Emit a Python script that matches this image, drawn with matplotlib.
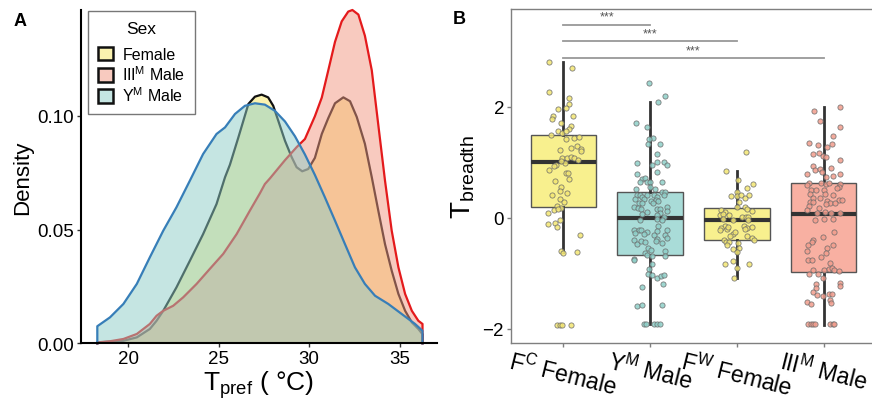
import numpy as np
import matplotlib
matplotlib.use("Agg")
import matplotlib.pyplot as plt
from matplotlib.patches import Patch

plt.rcParams['font.family'] = ['Liberation Sans', 'DejaVu Sans']
plt.rcParams['mathtext.fontset'] = 'custom'
plt.rcParams['mathtext.rm'] = 'Liberation Sans'
plt.rcParams['mathtext.it'] = 'Liberation Sans:italic'

# ---- panel A: density curves ----
fem_x = [18.30, 19.0, 19.74, 20.48, 21.2, 21.57, 21.94, 22.67, 23.41, 24.14, 24.88, 25.35, 25.62,
         26.09, 26.64, 27.0, 27.37, 27.73, 28.01, 28.29, 28.66, 29.03, 29.30, 29.61, 29.94, 30.31,
         30.69, 31.05, 31.42, 31.88, 32.25, 32.62, 33.07, 33.45, 33.81, 34.18, 34.55, 34.92, 35.29,
         35.66, 36.02, 36.25]
fem_y = [0.0004, 0.0007, 0.0011, 0.0026, 0.0063, 0.0099, 0.0143, 0.0246, 0.0363, 0.0480, 0.0612,
         0.0730, 0.0785, 0.0906, 0.1052, 0.1084, 0.1093, 0.1081, 0.1044, 0.0978, 0.0890, 0.0818,
         0.0774, 0.0756, 0.0766, 0.0815, 0.0920, 0.0990, 0.1055, 0.1081, 0.1064, 0.0995, 0.0877,
         0.0730, 0.0583, 0.0436, 0.0319, 0.0217, 0.0143, 0.0092, 0.0063, 0.0040]

m3_x = [18.30, 19.0, 19.74, 20.48, 21.2, 21.57, 21.94, 22.49, 23.04, 23.78, 24.51, 25.25, 25.99,
        26.72, 27.28, 27.55, 27.83, 28.66, 29.30, 29.76, 30.31, 30.69, 31.05, 31.42, 31.79, 32.15,
        32.38, 32.71, 33.07, 33.45, 33.81, 34.18, 34.55, 34.92, 35.29, 35.66, 36.02, 36.25]
m3_y = [0.0004, 0.0009, 0.0019, 0.0041, 0.0085, 0.0121, 0.0143, 0.0165, 0.0202, 0.0261, 0.0327,
        0.0393, 0.0480, 0.0583, 0.0660, 0.0700, 0.0725, 0.0805, 0.0862, 0.0898, 0.0998, 0.1080,
        0.1200, 0.1325, 0.1415, 0.1458, 0.1465, 0.1445, 0.1352, 0.1200, 0.0960, 0.0715, 0.0495,
        0.0334, 0.0217, 0.0143, 0.0099, 0.0085]

ym_x = [18.30, 19.0, 19.74, 20.48, 21.2, 21.94, 22.67, 23.41, 24.14, 24.88, 25.35, 25.90, 26.45,
        27.0, 27.55, 28.10, 28.66, 29.21, 29.76, 30.31, 30.86, 31.42, 31.97, 32.52, 33.07, 33.63,
        34.36, 35.10, 35.84, 36.25]
ym_y = [0.0075, 0.0114, 0.0173, 0.0261, 0.0378, 0.0495, 0.0598, 0.0715, 0.0832, 0.0920, 0.0949,
        0.1008, 0.1044, 0.1055, 0.1049, 0.1022, 0.0975, 0.0910, 0.0830, 0.0740, 0.0642, 0.0539,
        0.0436, 0.0334, 0.0261, 0.0209, 0.0173, 0.0129, 0.0085, 0.0055]

sex_labels = ['Female', r'III$^{\mathrm{M}}$ Male', r'Y$^{\mathrm{M}}$ Male']
sex_fill = ['#F7E761', '#F39781', '#8DCDC7']
sex_line = ['#111111', '#E41A1C', '#377EB8']

# ---- panel B: boxplot stats and jittered points ----
groups = [r'$\mathrm{F}^{\mathrm{C}}$ Female', r'$\mathrm{Y}^{\mathrm{M}}$ Male',
          r'$\mathrm{F}^{\mathrm{W}}$ Female', r'$\mathrm{III}^{\mathrm{M}}$ Male']
q1 = [0.20, -0.68, -0.40, -0.98]
med = [1.00, -0.01, -0.05, 0.07]
q3 = [1.49, 0.47, 0.18, 0.62]
wlo = [-0.62, -1.92, -1.09, -1.93]
whi = [2.80, 2.08, 0.84, 1.99]
box_fill = ['#F8F08E', '#A9DCD8', '#F8F08E', '#F8B0A2']
pt_fill = ['#F3E672', '#8ECFC8', '#F3E672', '#F29C8C']

fc_y = [2.80, 2.69, 2.26, 2.15, 2.04, 1.95, 1.97, 1.84, 1.77, 1.83, 1.71, 1.66, 1.60, 1.57, 1.53,
        1.57, 1.48, 1.42, 1.43, 1.45, 1.29, 1.26, 1.24, 1.20, 1.21, 1.07, 1.07, 1.09, 1.07, 1.03,
        0.99, 1.02, 0.95, 0.93, 0.85, 0.81, 0.81, 0.69, 0.66, 0.56, 0.48, 0.44, 0.41, 0.33, 0.29,
        0.21, 0.17, 0.13, 0.15, 0.09, -0.05, -0.09, -0.11, -0.17, -0.31, -0.61, -0.64, -0.62,
        -1.93, -1.93, -1.93, -1.93]
fc_dx = [-0.16, 0.10, -0.165, 0.07, 0.065, -0.055, 0.03, -0.12, -0.125, 0.11, -0.025, 0.09, 0.07,
         -0.06, -0.015, 0.035, -0.145, 0.03, 0.13, 0.18, 0.165, 0.09, 0.20, 0.20, -0.04, -0.01,
         0.04, 0.09, 0.125, 0.175, 0.02, -0.03, -0.08, -0.11, -0.16, 0.03, 0.06, 0.07, -0.09, -0.02,
         -0.04, 0.04, -0.13, -0.04, 0.015, -0.075, -0.03, -0.11, -0.06, -0.17, -0.035, -0.095,
         -0.18, -0.075, 0.195, -0.02, 0.0, 0.165, -0.075, -0.04, -0.015, 0.09]

ym_pts_y = [2.42, 2.20, 2.08, 1.70, 1.63, 1.44, 1.41, 1.32, 1.32, 1.14, 0.98, 0.95, 1.01, 1.01, 0.95,
            0.82, 0.78, 0.70, 0.71, 0.64, 0.64, 0.64, 0.65, 0.51, 0.55, 0.52, 0.46, 0.47, 0.40, 0.41,
            0.38, 0.40, 0.40, 0.37, 0.40, 0.33, 0.34, 0.30, 0.32, 0.30, 0.27, 0.27, 0.26, 0.19, 0.17,
            0.16, 0.11, 0.16, 0.16, 0.20, 0.06, 0.08, 0.12, 0.05, 0.01, -0.05, -0.03, -0.04, -0.15,
            -0.22, -0.22, -0.22, -0.26, -0.24, -0.22, -0.28, -0.30, -0.32, -0.31, -0.37, -0.40, -0.47,
            -0.43, -0.44, -0.39, -0.43, -0.46, -0.55, -0.59, -0.60, -0.64, -0.67, -0.70, -0.70, -0.74,
            -0.77, -0.83, -0.92, -1.01, -1.03, -1.09, -1.06, -1.03, -1.19, -1.25, -1.59, -1.57, -1.57,
            -1.92, -1.92, -1.92, -1.92, -1.92]
ym_pts_dx = [-0.01, 0.17, 0.095, -0.16, -0.035, 0.03, -0.01, -0.02, 0.11, 0.075, -0.15, 0.025, 0.08,
             0.165, 0.19, 0.075, -0.15, -0.09, -0.055, -0.11, -0.04, 0.0, 0.135, -0.16, 0.0, 0.06,
             0.135, 0.17, -0.155, -0.115, -0.09, -0.03, 0.04, 0.075, 0.155, -0.17, -0.075, 0.01,
             0.065, 0.09, -0.13, -0.09, 0.035, -0.18, -0.135, -0.10, -0.04, 0.075, 0.12, 0.19,
             -0.095, 0.115, 0.19, 0.085, 0.155, -0.115, 0.075, 0.14, 0.09, -0.19, -0.125, -0.105,
             -0.04, 0.085, 0.19, -0.175, -0.065, 0.05, 0.17, 0.19, -0.185, -0.145, -0.10, -0.06,
             0.075, 0.07, 0.14, -0.02, 0.01, 0.175, -0.055, -0.035, 0.025, 0.17, -0.19, -0.19, 0.02,
             -0.01, -0.025, 0.025, 0.08, 0.125, 0.155, 0.15, -0.09, -0.15, -0.09, 0.14, -0.065,
             -0.045, 0.04, 0.075, 0.115]

fw_y = [1.19, 0.84, 0.68, 0.61, 0.53, 0.47, 0.39, 0.39, 0.40, 0.35, 0.40, 0.29, 0.19, 0.19, 0.16,
        0.12, 0.14, 0.11, 0.05, 0.07, 0.05, 0.02, 0.02, 0.02, -0.02, -0.05, -0.04, -0.16, -0.19,
        -0.23, -0.20, -0.17, -0.16, -0.18, -0.17, -0.21, -0.29, -0.26, -0.34, -0.33, -0.37, -0.40,
        -0.40, -0.44, -0.44, -0.49, -0.45, -0.55, -0.56, -0.62, -0.83, -0.79, -0.83, -0.91, -1.09]
fw_dx = [0.10, -0.13, 0.01, 0.19, 0.115, 0.0, -0.065, 0.0, 0.045, 0.09, 0.14, 0.025, 0.0, 0.09,
         0.11, 0.17, -0.18, -0.14, -0.20, -0.165, -0.09, 0.06, 0.10, 0.125, -0.155, -0.04, 0.13,
         -0.14, -0.18, -0.20, -0.12, -0.105, 0.085, 0.12, 0.17, 0.09, -0.05, -0.025, -0.075, 0.12,
         0.17, 0.195, -0.15, -0.125, -0.09, -0.11, 0.01, 0.025, -0.04, 0.0, -0.14, -0.05, 0.14,
         0.0, -0.03]

m3_pts_y = [1.93, 2.00, 1.75, 1.63, 1.47, 1.34, 1.31, 1.28, 1.33, 1.15, 1.16, 1.11, 1.10, 1.03, 0.93,
            0.85, 0.87, 0.82, 0.89, 0.78, 0.74, 0.75, 0.78, 0.63, 0.62, 0.61, 0.62, 0.61, 0.56, 0.58,
            0.50, 0.49, 0.50, 0.53, 0.43, 0.43, 0.41, 0.35, 0.35, 0.30, 0.32, 0.32, 0.28, 0.29, 0.27,
            0.27, 0.21, 0.25, 0.13, 0.17, 0.08, 0.10, 0.09, 0.09, -0.04, -0.03, -0.02, -0.26, -0.40,
            -0.44, -0.35, -0.50, -0.55, -0.50, -0.61, -0.63, -0.76, -0.76, -0.71, -0.82, -0.94, -0.94,
            -0.93, -0.90, -0.95, -0.97, -1.01, -1.02, -1.09, -1.19, -1.27, -1.18, -1.23, -1.34, -1.39,
            -1.41, -1.37, -1.37, -1.49, -1.52, -1.55, -1.54, -1.92, -1.92, -1.92, -1.92, -1.92,
            -1.92, -1.92]
m3_pts_dx = [-0.115, 0.19, -0.04, 0.185, 0.10, -0.17, -0.065, 0.04, 0.09, -0.125, -0.055, -0.015,
             0.02, 0.18, -0.13, -0.105, -0.04, -0.025, 0.085, -0.19, 0.025, 0.11, 0.19, -0.17,
             -0.03, 0.025, 0.06, 0.19, 0.17, -0.19, -0.145, -0.095, 0.0, 0.15, -0.16, 0.01, 0.11,
             -0.125, -0.05, 0.04, 0.17, 0.205, -0.16, -0.12, 0.075, 0.13, -0.17, 0.025, -0.195,
             -0.06, -0.08, 0.01, 0.08, 0.18, -0.105, 0.0, 0.10, 0.12, -0.13, -0.14, -0.01, -0.18,
             0.035, 0.11, -0.19, 0.02, -0.18, -0.14, -0.03, 0.07, -0.12, 0.0, 0.055, 0.09, 0.12,
             0.175, -0.17, -0.07, -0.015, -0.09, -0.085, 0.19, 0.18, -0.125, -0.075, -0.01, 0.055,
             0.09, 0.075, -0.195, -0.145, 0.08, -0.18, -0.15, -0.12, -0.10, 0.07, 0.10, 0.115]

pts_y = [fc_y, ym_pts_y, fw_y, m3_pts_y]
pts_dx = [fc_dx, ym_pts_dx, fw_dx, m3_pts_dx]

# significance brackets: (from group, to group, height)
sig_pairs = [(1, 2, 3.48), (1, 3, 3.18), (1, 4, 2.88)]

fig = plt.figure(figsize=(8.72, 4.02), dpi=100)

# ================= panel A =================
axA = fig.add_axes([81/872, 1-344.3/402, 356/872, 333.3/402])
curves = [(fem_x, fem_y), (m3_x, m3_y), (ym_x, ym_y)]
for i, (cx, cy) in enumerate(curves):
    px = [cx[0]] + list(cx) + [cx[-1]]
    py = [0.0] + list(cy) + [0.0]
    axA.fill(px, py, facecolor=sex_fill[i], alpha=0.5, edgecolor='none', zorder=2 + 2*i)
    axA.plot(px, py, color=sex_line[i], lw=1.6, zorder=3 + 2*i, clip_on=False,
             solid_joinstyle='round')

axA.set_xlim(17.4, 37.05)
axA.set_ylim(0, 0.1465)
axA.set_xticks([20, 25, 30, 35])
axA.set_yticks([0.0, 0.05, 0.10])
axA.set_yticklabels(['0.00', '0.05', '0.10'])
for s in ['top', 'right']:
    axA.spines[s].set_visible(False)
for s in ['left', 'bottom']:
    axA.spines[s].set_linewidth(1.5)
    axA.spines[s].set_zorder(10)
axA.tick_params(labelsize=13.5, length=3, width=1, color='#333333', labelcolor='black', pad=2)
axA.set_ylabel('Density', fontsize=16, labelpad=3)
axA.set_xlabel(r'T$_{\mathrm{pref}}$ ( °C)', fontsize=19, labelpad=1)

handles = [Patch(facecolor=matplotlib.colors.to_rgba(sex_fill[i], 0.5), edgecolor='#111111',
                 linewidth=1.8) for i in range(3)]
leg = axA.legend(handles, sex_labels, title='Sex', loc='upper left', bbox_to_anchor=(0.02, 0.997),
                 fontsize=11.5, title_fontsize=12.5, frameon=True, fancybox=False, borderaxespad=0,
                 handlelength=0.95, handleheight=0.95, handletextpad=0.6, labelspacing=0.15,
                 borderpad=0.6)
leg._legend_box.sep = 8
leg.get_frame().set_edgecolor('#555555')
leg.get_frame().set_linewidth(1.0)
leg.set_zorder(20)

# ================= panel B =================
axB = fig.add_axes([511/872, 1-344/402, 365/872, 334/402])
bstats = []
for i in range(4):
    bstats.append(dict(med=med[i], q1=q1[i], q3=q3[i], whislo=wlo[i], whishi=whi[i], fliers=[]))
bp = axB.bxp(bstats, positions=[1, 2, 3, 4], widths=0.75, showfliers=False, showcaps=False,
             patch_artist=True,
             boxprops=dict(edgecolor='#555555', linewidth=1.0),
             whiskerprops=dict(color='#333333', linewidth=2.0),
             medianprops=dict(color='#333333', linewidth=3.0, solid_capstyle='butt'))
for i, b in enumerate(bp['boxes']):
    b.set_facecolor(box_fill[i])
    b.set_zorder(2)
for w in bp['whiskers']:
    w.set_zorder(3)
for m in bp['medians']:
    m.set_zorder(3)

for i in range(4):
    xs = [i + 1 + d for d in pts_dx[i]]
    axB.scatter(xs, pts_y[i], s=14, facecolor=pt_fill[i], edgecolor='#6b6b6b', linewidths=0.6,
                alpha=0.85, zorder=4)

for g0, g1, h in sig_pairs:
    axB.plot([g0, g1], [h, h], color='#999999', lw=1.3, zorder=5)
    axB.text((g0 + g1) / 2, h + 0.03, '***', ha='center', va='bottom', fontsize=9,
             color='#555555')

axB.set_xlim(0.4, 4.6)
axB.set_ylim(-2.26, 3.76)
axB.set_yticks([-2, 0, 2])
axB.set_xticks([1, 2, 3, 4])
axB.set_xticklabels(groups, rotation=-14, ha='center', va='top')
for s in axB.spines.values():
    s.set_color('#7f7f7f')
    s.set_linewidth(1.0)
axB.spines['right'].set_visible(False)
axB.tick_params(labelsize=13.5, length=3, width=1, color='#7f7f7f', labelcolor='black', pad=2)
axB.tick_params(axis='x', pad=1, labelsize=16.5)
axB.set_ylabel(r'T$_{\mathrm{breadth}}$', fontsize=20, labelpad=4)

fig.text(14/872, 1-22/402, 'A', fontsize=13, fontweight='bold', va='center', ha='left')
fig.text(453/872, 1-20/402, 'B', fontsize=13, fontweight='bold', va='center', ha='left')

fig.savefig('out.png', dpi=100)
